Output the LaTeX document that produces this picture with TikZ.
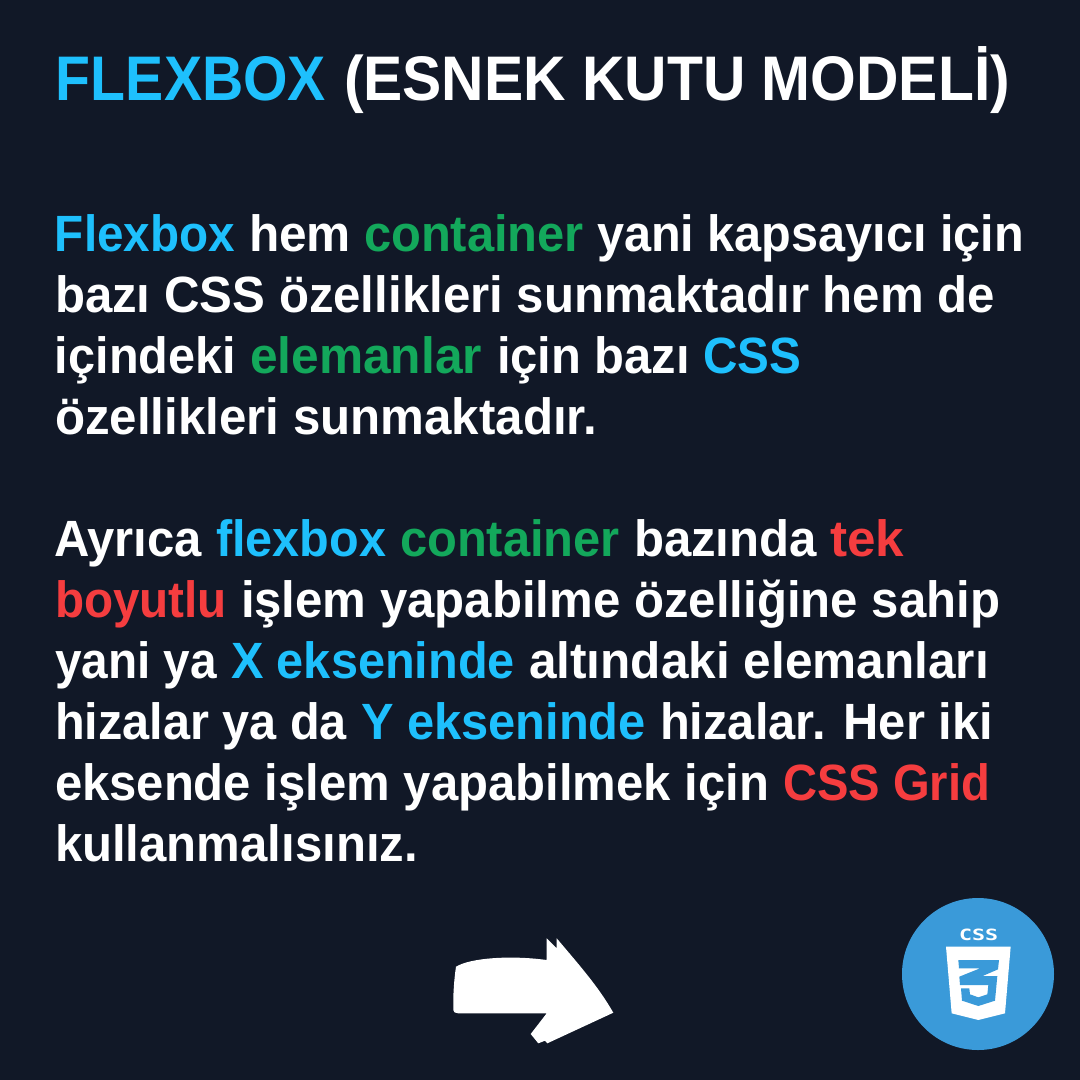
\documentclass[tikz,border=0pt]{standalone}
\usepackage{fontspec}
\usepackage{graphicx}
\setmainfont{Liberation Sans}[BoldFont={Liberation Sans Bold}]
\newfontfamily\logofont{DejaVu Sans Mono Bold}
\definecolor{bgc}{HTML}{111827}
\definecolor{bluec}{HTML}{1EC0FD}
\definecolor{greenc}{HTML}{13A85B}
\definecolor{redc}{HTML}{F53D3F}
\definecolor{whitec}{HTML}{FFFFFF}
\definecolor{cssc}{HTML}{3A9AD9}
\newcommand{\seg}[7]{% name x-start x-end baseline colour text size
  \node[txt,text=#5] (#1) at (#2,#4) {\fontsize{#7}{#7}\selectfont\bfseries\resizebox{\dimexpr#3pt-#2pt\relax}{\height}{#6}};}
\tikzset{txt/.style={inner sep=0pt,outer sep=0pt,anchor=base west}}
\begin{document}
\begin{tikzpicture}[x=1pt,y=-1pt]
\path[fill=bgc] (0,0) rectangle (1080,1080);
\useasboundingbox (0,0) rectangle (1080,1080);
\seg{t1}{56}{326}{100.5}{bluec}{FLEXBOX}{63}
\seg{t2}{344}{1010}{100.5}{whitec}{(ESNEK KUTU MODELİ)}{63}
\seg{a1}{55}{235}{251}{bluec}{Flexbox}{51}
\seg{a2}{249}{351}{251}{whitec}{hem}{51}
\seg{a3}{364}{584}{251}{greenc}{container}{51}
\seg{a4}{597}{1024}{251}{whitec}{yani kapsayıcı için}{51}
\seg{b1}{55}{995}{312}{whitec}{bazı CSS özellikleri sunmaktadır hem de}{51}
\seg{c1}{55}{236}{373}{whitec}{içindeki}{51}
\seg{c2}{250}{482}{373}{greenc}{elemanlar}{51}
\seg{c3}{497}{690}{373}{whitec}{için bazı}{51}
\seg{c4}{703}{801}{373}{bluec}{CSS}{51}
\seg{d1}{55}{597}{434}{whitec}{özellikleri sunmaktadır.}{51}
\seg{e1}{54}{202}{556}{whitec}{Ayrıca}{51}
\seg{e2}{216}{386}{556}{bluec}{flexbox}{51}
\seg{e3}{400}{620}{556}{greenc}{container}{51}
\seg{e4}{634}{817}{556}{whitec}{bazında}{51}
\seg{e5}{830}{904}{556}{redc}{tek}{51}
\seg{f1}{55}{227}{617}{redc}{boyutlu}{51}
\seg{f2}{241}{1000}{617}{whitec}{işlem yapabilme özelliğine sahip}{51}
\seg{g1}{55}{217}{678}{whitec}{yani ya}{51}
\seg{g2}{231}{515}{678}{bluec}{X ekseninde}{51}
\seg{g3}{529}{989}{678}{whitec}{altındaki elemanları}{51}
\seg{h1}{55}{347}{739}{whitec}{hizalar ya da}{51}
\seg{h2}{361}{646}{739}{bluec}{Y ekseninde}{51}
\seg{h3}{660}{993}{739}{whitec}{hizalar. Her iki}{51}
\seg{i1}{55}{769}{800}{whitec}{eksende işlem yapabilmek için}{51}
\seg{i2}{783}{990}{800}{redc}{CSS Grid}{51}
\seg{j1}{55}{418}{861}{whitec}{kullanmalısınız.}{51}
% arrow
\fill[white] (456,966.7) .. controls (470,958) and (510,955) .. (546.7,960) -- (546.7,938.3) -- (556.7,948.3) -- (556.7,938.3)
 .. controls (580,966) and (598,986) .. (613.3,1012.7) -- (547.3,1043.3) -- (545,1040.7) -- (538.3,1043.3) -- (530.7,1034) -- (546.7,1013.3) -- (458,1013.3)
 .. controls (455,1013.3) and (453.5,1012) .. (453.3,1010) .. controls (453,995) and (454,980) .. (456,966.7) -- cycle;
% css logo
\fill[cssc] (978,974) circle[radius=76];
\begin{scope}[shift={(880,880)},x=.33333pt,y=-.33333pt]
\fill[white] (198,200) -- (392,200) -- (375,400) -- (295,420) -- (215,400) -- cycle;
\fill[cssc] (235,240) -- (357,240) -- (354,268) -- (308,288) -- (352,288) -- (345,362) -- (295,378) -- (246,362) -- (243,325) -- (268,325) -- (270,343) -- (295,352) -- (322,343) -- (325,315) -- (240,315) -- (238,290) -- (300,265) -- (237,265) -- cycle;
\end{scope}
\node[inner sep=0pt,text=white] (logotext) at (978.5,935) {\fontsize{14}{14}\selectfont\logofont\resizebox{39pt}{11.5pt}{CSS}};
\end{tikzpicture}
\end{document}
